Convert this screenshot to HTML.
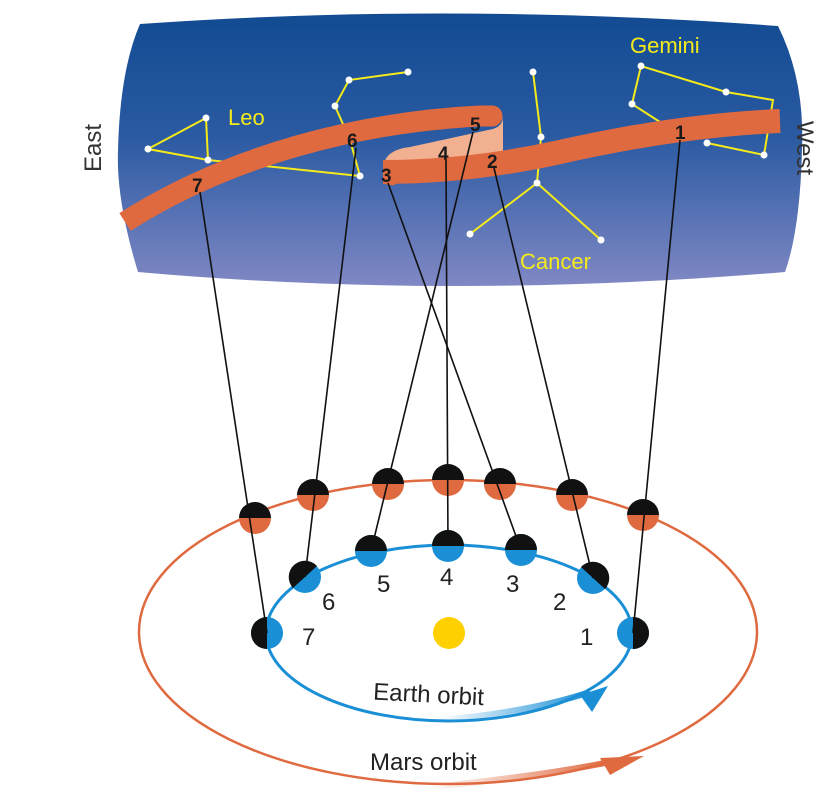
<!DOCTYPE html>
<html><head><meta charset="utf-8"><style>html,body{margin:0;padding:0;background:#fff}svg{display:block}</style></head>
<body>
<svg width="825" height="794" viewBox="0 0 825 794" xmlns="http://www.w3.org/2000/svg" font-family="Liberation Sans, sans-serif">
<defs>
<linearGradient id="sky" x1="0" y1="0" x2="0" y2="1">
<stop offset="0" stop-color="#124b92"/><stop offset="0.45" stop-color="#2a5aa2"/><stop offset="1" stop-color="#8088c4"/>
</linearGradient>
<linearGradient id="ea" x1="0" y1="0" x2="1" y2="0">
<stop offset="0" stop-color="#1a8fd6" stop-opacity="0"/><stop offset="1" stop-color="#1a8fd6"/>
</linearGradient>
<linearGradient id="ma" x1="0" y1="0" x2="1" y2="0">
<stop offset="0" stop-color="#e06a40" stop-opacity="0"/><stop offset="1" stop-color="#e06a40"/>
</linearGradient>
</defs>
<path d="M140,24 Q450,2 778,26 Q805,80 802,150 Q800,230 785,272 Q450,300 138,272 Q116,200 118,150 Q120,70 140,24 Z" fill="url(#sky)"/>
<g stroke="#f5ea1a" stroke-width="2" fill="none">
<polyline points="208,160 148,149 206,118 208,160 360,176"/>
<polyline points="408,72 349,80 335,106 350,140 360,176"/>
<polyline points="533,72 541,137 537,183 470,234"/>
<line x1="537" y1="183" x2="601" y2="240"/>
<polyline points="632,104 641,66 726,92 773,100 764,155 707,143"/>
<line x1="632" y1="104" x2="660" y2="122"/>
</g>
<g fill="#fff">
<circle cx="148" cy="149" r="3.5"/><circle cx="206" cy="118" r="3.5"/><circle cx="208" cy="160" r="3.5"/><circle cx="360" cy="176" r="3.5"/>
<circle cx="408" cy="72" r="3.5"/><circle cx="349" cy="80" r="3.5"/><circle cx="335" cy="106" r="3.5"/>
<circle cx="533" cy="72" r="3.5"/><circle cx="541" cy="137" r="3.5"/><circle cx="537" cy="183" r="3.5"/><circle cx="470" cy="234" r="3.5"/><circle cx="601" cy="240" r="3.5"/>
<circle cx="641" cy="66" r="3.5"/><circle cx="726" cy="92" r="3.5"/><circle cx="632" cy="104" r="3.5"/><circle cx="764" cy="155" r="3.5"/><circle cx="707" cy="143" r="3.5"/>
</g>
<!-- ecliptic band -->
<path d="M383,170 Q383,150 410,147 L488,130 Q503,128 503,116 L503,150 Q503,156 495,157 L383,176 Z" fill="#f1b090"/>
<path d="M383,172 Q470,172 560,152 Q680,125 780,121" stroke="#e06a40" stroke-width="24" fill="none"/>
<path d="M383,160 L383,180 Q383,186 395,185 L396,160 Z" fill="#e06a40"/>
<path d="M125,222 C230,155 360,122 480,116 L492,116" stroke="#e06a40" stroke-width="21" fill="none"/>
<circle cx="492" cy="116" r="10.5" fill="#e06a40"/>
<g font-weight="bold" font-size="19" fill="#1a1a1a">
<text x="675" y="139">1</text><text x="487" y="168">2</text><text x="381" y="182">3</text><text x="438" y="160">4</text><text x="470" y="131">5</text><text x="347" y="147">6</text><text x="192" y="192">7</text>
</g>
<g fill="#f5ea1a" font-size="22">
<text x="228" y="125">Leo</text><text x="630" y="53">Gemini</text><text x="520" y="269">Cancer</text>
</g>
<text transform="translate(101,148) rotate(-90)" text-anchor="middle" font-size="24" fill="#333">East</text>
<text transform="translate(797,148) rotate(90)" text-anchor="middle" font-size="24" fill="#333">West</text>
<ellipse cx="448" cy="632" rx="309" ry="152" fill="none" stroke="#e06a40" stroke-width="2.5"/>
<ellipse cx="449" cy="633" rx="183" ry="88" fill="none" stroke="#1a8fd6" stroke-width="3"/>
<path d="M440,720 Q530,712 590,692" stroke="url(#ea)" stroke-width="6" fill="none"/>
<polygon points="608,686 580,695 592,712" fill="#1a8fd6"/>
<path d="M430,787 Q540,776 610,762" stroke="url(#ma)" stroke-width="6" fill="none"/>
<polygon points="644,756 600,758 610,775" fill="#e06a40"/>
<circle cx="449" cy="633" r="16" fill="#ffd000"/>
<g>
<path d="M239,518 a16,16 0 0 1 32,0 z" fill="#111"/><path d="M239,518 a16,16 0 0 0 32,0 z" fill="#e06a40"/>
<path d="M297,495 a16,16 0 0 1 32,0 z" fill="#111"/><path d="M297,495 a16,16 0 0 0 32,0 z" fill="#e06a40"/>
<path d="M372,484 a16,16 0 0 1 32,0 z" fill="#111"/><path d="M372,484 a16,16 0 0 0 32,0 z" fill="#e06a40"/>
<path d="M432,480 a16,16 0 0 1 32,0 z" fill="#111"/><path d="M432,480 a16,16 0 0 0 32,0 z" fill="#e06a40"/>
<path d="M484,484 a16,16 0 0 1 32,0 z" fill="#111"/><path d="M484,484 a16,16 0 0 0 32,0 z" fill="#e06a40"/>
<path d="M556,495 a16,16 0 0 1 32,0 z" fill="#111"/><path d="M556,495 a16,16 0 0 0 32,0 z" fill="#e06a40"/>
<path d="M627,515 a16,16 0 0 1 32,0 z" fill="#111"/><path d="M627,515 a16,16 0 0 0 32,0 z" fill="#e06a40"/>
<circle cx="633" cy="633" r="16" fill="#1a8fd6"/><path d="M633,617 a16,16 0 0 1 0,32 z" fill="#111"/>
<circle cx="267" cy="633" r="16" fill="#1a8fd6"/><path d="M267,617 a16,16 0 0 0 0,32 z" fill="#111"/>
<circle cx="593" cy="578" r="16" fill="#1a8fd6"/><path d="M581,567 a16,16 0 0 1 24,22 z" fill="#111"/>
<circle cx="521" cy="550" r="16" fill="#1a8fd6"/><path d="M505,550 a16,16 0 0 1 32,0 z" fill="#111"/>
<circle cx="448" cy="546" r="16" fill="#1a8fd6"/><path d="M432,546 a16,16 0 0 1 32,0 z" fill="#111"/>
<circle cx="371" cy="551" r="16" fill="#1a8fd6"/><path d="M355,551 a16,16 0 0 1 32,0 z" fill="#111"/>
<circle cx="305" cy="577" r="16" fill="#1a8fd6"/><path d="M317,566 a16,16 0 0 0 -24,22 z" fill="#111"/>
</g>
<g stroke="#111" stroke-width="1.6">
<line x1="633" y1="633" x2="680" y2="140"/>
<line x1="593" y1="578" x2="494" y2="168"/>
<line x1="521" y1="550" x2="388" y2="183"/>
<line x1="448" y1="546" x2="446" y2="160"/>
<line x1="371" y1="551" x2="473" y2="132"/>
<line x1="305" y1="577" x2="356" y2="148"/>
<line x1="267" y1="633" x2="200" y2="192"/>
</g>
<g font-size="24" fill="#222">
<text x="580" y="645">1</text><text x="553" y="610">2</text><text x="506" y="592">3</text><text x="440" y="585">4</text><text x="377" y="592">5</text><text x="322" y="610">6</text><text x="302" y="645">7</text>
</g>
<text x="373" y="703" font-size="24" fill="#222" transform="rotate(3 440 700)">Earth orbit</text>
<text x="370" y="770" font-size="24" fill="#222">Mars orbit</text>
</svg>
</body></html>
